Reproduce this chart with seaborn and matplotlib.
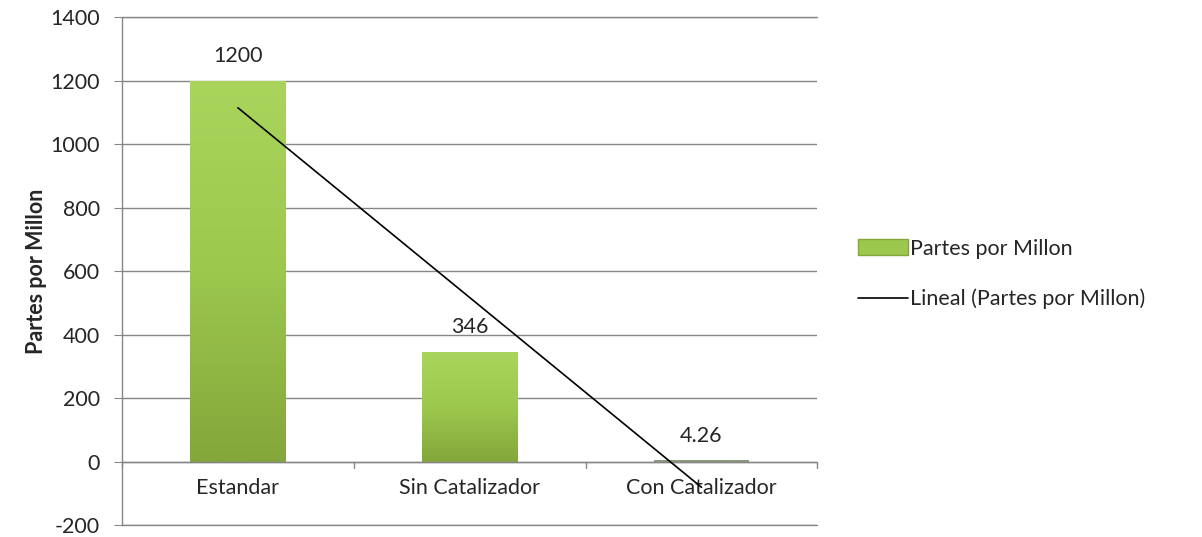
import numpy as np
import pandas as pd
import matplotlib
matplotlib.use("Agg")
import matplotlib.pyplot as plt
import seaborn as sns
from matplotlib.colors import LinearSegmentedColormap
from matplotlib.lines import Line2D
from matplotlib.patches import Patch

# Datos del grafico
CATEGORIAS = ["Estandar", "Sin Catalizador", "Con Catalizador"]
VALORES = [1200, 346, 4.26]
ETIQUETAS = ["1200", "346", "4.26"]
SERIE = "Partes por Millon"
TENDENCIA = "Lineal (Partes por Millon)"

sns.set_style("white")
plt.rcParams["font.family"] = ["Lato", "DejaVu Sans"]
FS = 15.5
GRIS = "#868686"

df = pd.DataFrame({"cat": CATEGORIAS, "ppm": VALORES})

fig = plt.figure(figsize=(12.02, 5.37), dpi=100)
ax = fig.add_axes([0.1015, 0.0223, 0.5785, 0.9457])

sns.barplot(data=df, x="cat", y="ppm", color="#9cc84e", width=0.41,
            edgecolor="none", saturation=1, ax=ax, zorder=3)

# gradiente vertical en cada barra (claro arriba, oscuro abajo)
cmap = LinearSegmentedColormap.from_list("verde", ["#aad55c", "#9cc84e", "#84a63a"])
grad = np.linspace(0, 1, 256).reshape(-1, 1)
for patch in ax.patches:
    x0, y0 = patch.get_x(), patch.get_y()
    w, h = patch.get_width(), patch.get_height()
    if h < 20:
        patch.set_facecolor("#8a9a7a")
        continue
    im = ax.imshow(grad, cmap=cmap, aspect="auto", extent=[x0, x0 + w, y0, y0 + h],
                   origin="upper", zorder=3.5)
    im.set_clip_path(patch)

# linea de tendencia lineal
xs = np.arange(len(VALORES))
m, b = np.polyfit(xs, VALORES, 1)
ax.plot(xs, m * xs + b, color="black", linewidth=1.2, zorder=5)

# etiquetas de datos
for i, (v, t) in enumerate(zip(VALORES, ETIQUETAS)):
    ax.text(i, v + 45, t, ha="center", va="bottom", fontsize=FS, zorder=6)

ax.set_xlim(-0.5, 2.5)
ax.set_ylim(-200, 1400)
ax.set_yticks(np.arange(-200, 1401, 200))
ax.set_yticklabels([str(v) for v in range(-200, 1401, 200)], fontsize=FS)
ax.yaxis.grid(True, color=GRIS, linewidth=1)
ax.set_axisbelow(True)
ax.tick_params(axis="y", length=6, color=GRIS, left=True, pad=10)

for s in ["top", "right", "bottom"]:
    ax.spines[s].set_visible(False)
ax.spines["left"].set_color(GRIS)
ax.spines["left"].set_linewidth(1)

# lineas de borde superior e inferior sin recorte
ax.axhline(-200, color=GRIS, linewidth=1, clip_on=False, zorder=1)
ax.axhline(1400, color=GRIS, linewidth=1, clip_on=False, zorder=1)

# eje horizontal en cero con marcas
ax.axhline(0, color=GRIS, linewidth=1, zorder=4)
for xt in [-0.5, 0.5, 1.5, 2.5]:
    ax.plot([xt, xt], [0, -20], color=GRIS, linewidth=1, clip_on=False, zorder=4)

# categorias justo debajo de cero
ax.set_xticks(xs)
ax.set_xticklabels([])
ax.tick_params(axis="x", length=0)
for i, c in enumerate(CATEGORIAS):
    ax.text(i, -52, c, ha="center", va="top", fontsize=FS)

ax.set_xlabel("")
ax.set_ylabel("Partes por Millon", fontsize=FS, fontweight="bold", labelpad=2)

handles = [Patch(facecolor="#9cc84e", edgecolor="#84a63a"),
           Line2D([0], [0], color="black", linewidth=1.2)]
fig.legend(handles, [SERIE, TENDENCIA], loc="center left",
           bbox_to_anchor=(0.698, 0.49), frameon=False, fontsize=FS,
           handlelength=2.3, handletextpad=0.1, labelspacing=1.4)

fig.savefig("out.png", dpi=100)
